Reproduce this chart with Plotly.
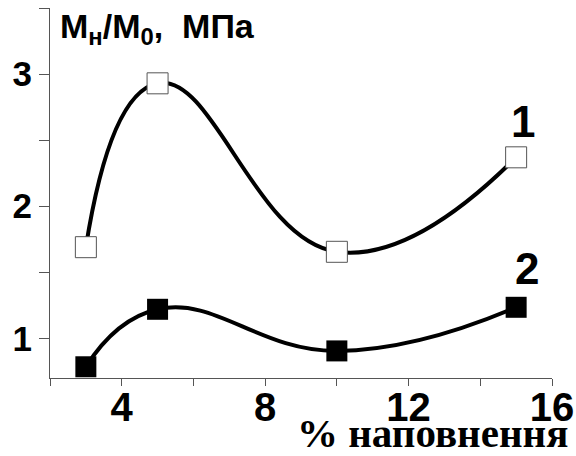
import plotly.graph_objects as go

# data
filler_pct = [3, 5, 10, 15]
series1 = [1.69, 2.93, 1.655, 2.37]   # curve 1, open squares
series2 = [0.785, 1.22, 0.905, 1.235]  # curve 2, filled squares
x_ticks = [4, 8, 12, 16]
y_ticks = [1, 2, 3]
curve_labels = ["1", "2"]
label_pos_x = [15.2, 15.3]
label_pos_y = [2.64, 1.53]

fig = go.Figure()

fig.add_trace(go.Scatter(
    x=filler_pct, y=series1, mode="lines+markers",
    line=dict(color="black", width=4, shape="spline", smoothing=1.3),
    marker=dict(symbol="square", size=21, color="white",
                line=dict(color="#555555", width=1)),
    showlegend=False, cliponaxis=False,
))
fig.add_trace(go.Scatter(
    x=filler_pct, y=series2, mode="lines+markers",
    line=dict(color="black", width=4, shape="spline", smoothing=1.3),
    marker=dict(symbol="square", size=21, color="black",
                line=dict(color="black", width=0)),
    showlegend=False, cliponaxis=False,
))

for t, xx, yy in zip(curve_labels, label_pos_x, label_pos_y):
    fig.add_annotation(x=xx, y=yy, text=t, showarrow=False,
                       font=dict(family="Liberation Sans", size=44, color="black", weight="bold"),
                       xanchor="center", yanchor="middle")

fig.add_annotation(xref="paper", yref="paper", x=0.016, y=1.0, yshift=3,
                   text="M<sub>н</sub>/M<sub>0</sub>,&nbsp;&nbsp;МПа",
                   showarrow=False, xanchor="left", yanchor="top",
                   font=dict(family="Liberation Sans", size=34, color="black", weight="bold"))

fig.add_annotation(xref="paper", yref="paper", x=1.036, y=0, yshift=-80,
                   text="% наповнення", showarrow=False,
                   xanchor="right", yanchor="bottom",
                   font=dict(family="Liberation Serif", size=41, color="black", weight="bold"))

fig.update_xaxes(range=[2, 16], tickvals=x_ticks, ticks="outside", ticklen=7,
                 tickcolor="#555555", tickwidth=1, showline=True, linecolor="#555555",
                 linewidth=1, showgrid=False, zeroline=False, automargin=False,
                 ticklabelstandoff=-13,
                 minor=dict(dtick=2, tick0=0, ticks="outside", ticklen=7,
                            tickcolor="#555555", tickwidth=1, showgrid=False),
                 tickfont=dict(family="Liberation Sans", size=40, color="black", weight="bold"))
fig.update_yaxes(range=[0.7, 3.5], tickvals=y_ticks, ticks="outside", ticklen=10,
                 tickcolor="#555555", tickwidth=1, showline=True, linecolor="#555555",
                 linewidth=1, showgrid=False, zeroline=False, automargin=False,
                 minor=dict(dtick=0.5, tick0=0, ticks="outside", ticklen=10,
                            tickcolor="#555555", tickwidth=1, showgrid=False),
                 tickfont=dict(family="Liberation Sans", size=35, color="black", weight="bold"))

fig.update_layout(width=576, height=456, margin=dict(l=50, r=24, t=8, b=78),
                  plot_bgcolor="white", paper_bgcolor="white")

fig.write_html("out.html")
